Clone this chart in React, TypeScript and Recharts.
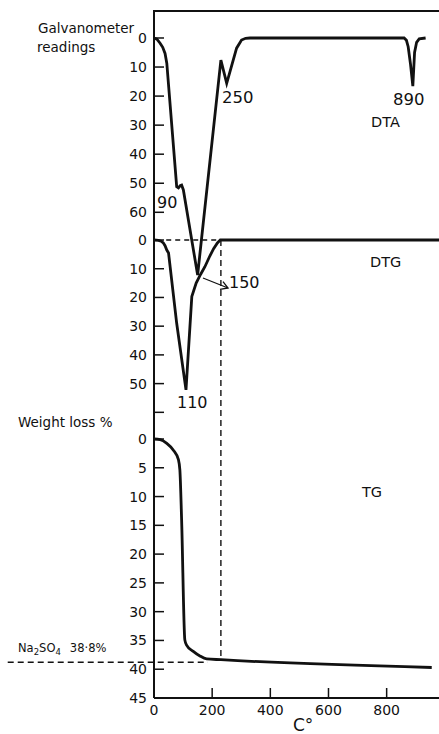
import { LineChart, Line, XAxis, YAxis, ReferenceLine } from 'recharts';

const W = 439;
const H = 734;
const TOP = 11;
const BOTTOM = 36;
const MARGIN = { top: TOP, right: 0, bottom: BOTTOM, left: 0 };
const AXIS_W = 154;
const INK = '#111';
const FONT = '"DejaVu Sans", sans-serif';

// temperature, °C
const T_DOMAIN = [0, 980];
const T_TICKS = [0, 200, 400, 600, 800];

// DTA: galvanometer readings (top block)
const DTA_DOMAIN = [-9.29, 227.19];
const DTA_TICKS = [0, 10, 20, 30, 40, 50, 60];
const DTA_T = [0, 10, 21, 30, 38, 44, 78, 84, 90, 95, 101, 150, 230, 250, 284, 301, 315, 330, 860, 868, 874, 882, 890, 896, 903, 912, 934];
const DTA_V = [0, 0.4, 1.8, 3.2, 5.3, 8.7, 51.2, 51.6, 50.8, 50.6, 52.3, 81.6, 7.6, 15.6, 3.5, 0.7, 0.1, 0, 0, 0.8, 3, 9, 16.6, 5, 1.5, 0.3, 0];

// DTG (middle block)
const DTG_DOMAIN = [-79.74, 159.47];
const DTG_TICKS = [0, 10, 20, 30, 40, 50, 60];
const DTG_LABELLED = [0, 10, 20, 30, 40, 50];
const DTG_T = [0, 15, 25, 32, 38, 44, 50, 78, 110, 130, 145, 160, 175, 190, 205, 218, 228, 980];
const DTG_V = [0, 0.1, 0.4, 1.0, 2.0, 3.5, 4.5, 29, 52.2, 19.7, 15, 12, 9.3, 6, 3, 1, 0, 0];

// TG: weight loss % (bottom block)
const TG_DOMAIN = [-74.36, 45];
const TG_TICKS = [0, 5, 10, 15, 20, 25, 30, 35, 40, 45];
const TG_T = [0, 21, 44, 66, 84, 89, 95, 106, 112, 135, 158, 181, 230, 955];
const TG_V = [0, 0.1, 0.75, 1.9, 3.6, 5.4, 14.1, 34.9, 35.8, 36.9, 37.7, 38.2, 38.35, 39.7];

// Na2SO4 residue and the guide lines
const NA2SO4 = 38.8;
const NA2SO4_FROM = -503;
const NA2SO4_TO = 185;
const DTG_END = 228;
const GUIDE_T = 230;
const GUIDE_TG = 38.35;

const rows = (ts: number[], vs: number[]) => ts.map((t, i) => ({ t, v: vs[i] }));

// map a value from one block's scale onto another's
const rescale = (v: number, from: number[], to: number[]) =>
  to[0] + ((v - from[0]) / (from[1] - from[0])) * (to[1] - to[0]);

const yTick = (labelled: number[]) => (p: any) => {
  const { x, y, payload } = p;
  return (
    <g>
      <line x1={x} x2={x + 10} y1={y} y2={y} stroke={INK} strokeWidth={1.5} />
      {labelled.includes(payload.value) && (
        <text x={x - 7} y={y} dy="0.36em" textAnchor="end" fontSize={14} fontFamily={FONT} fill={INK}>
          {payload.value}
        </text>
      )}
    </g>
  );
};

const xTick = (p: any) => {
  const { x, y, payload } = p;
  return (
    <g>
      {payload.value !== 0 && <line x1={x} x2={x} y1={y} y2={y - 10} stroke={INK} strokeWidth={1.5} />}
      <text x={x} y={y + 17} textAnchor="middle" fontSize={14} fontFamily={FONT} fill={INK}>
        {payload.value}
      </text>
    </g>
  );
};

const layer: React.CSSProperties = { position: 'absolute', left: 0, top: 0 };

const lineProps = {
  dataKey: 'v',
  stroke: INK,
  strokeWidth: 2.8,
  dot: false,
  activeDot: false,
  isAnimationActive: false,
};

export default function App() {
  const dtgZeroOnTg = rescale(0, DTG_DOMAIN, TG_DOMAIN);
  const txt = { fontFamily: FONT, fill: INK };

  return (
    <div style={{ position: 'absolute', left: 0, top: 0, width: W, height: H, background: '#fff' }}>
      {/* DTA */}
      <div style={layer}>
        <LineChart width={W} height={H} margin={MARGIN} data={rows(DTA_T, DTA_V)}>
          <XAxis type="number" dataKey="t" domain={T_DOMAIN} hide allowDataOverflow />
          <YAxis
            type="number"
            domain={DTA_DOMAIN}
            reversed
            allowDataOverflow
            ticks={DTA_TICKS}
            interval={0}
            width={AXIS_W}
            axisLine={false}
            tickLine={false}
            tickSize={0}
            tickMargin={0}
            tick={yTick(DTA_TICKS)}
          />
          <Line type="linear" {...lineProps} />
        </LineChart>
      </div>

      {/* DTG */}
      <div style={layer}>
        <LineChart width={W} height={H} margin={MARGIN} data={rows(DTG_T, DTG_V)}>
          <XAxis type="number" dataKey="t" domain={T_DOMAIN} hide allowDataOverflow />
          <YAxis
            type="number"
            domain={DTG_DOMAIN}
            reversed
            allowDataOverflow
            ticks={DTG_TICKS}
            interval={0}
            width={AXIS_W}
            axisLine={false}
            tickLine={false}
            tickSize={0}
            tickMargin={0}
            tick={yTick(DTG_LABELLED)}
          />
          <ReferenceLine
            segment={[{ x: 42, y: 0 }, { x: DTG_END, y: 0 }]}
            stroke={INK}
            strokeWidth={1.4}
            strokeDasharray="5 4"
          />
          <Line type="linear" {...lineProps} />
        </LineChart>
      </div>

      {/* TG, with the temperature axis */}
      <div style={layer}>
        <LineChart width={W} height={H} margin={{ ...MARGIN, bottom: 0 }} data={rows(TG_T, TG_V)}>
          <XAxis
            type="number"
            dataKey="t"
            domain={T_DOMAIN}
            ticks={T_TICKS}
            interval={0}
            height={BOTTOM}
            allowDataOverflow
            axisLine={{ stroke: INK, strokeWidth: 2 }}
            tickLine={false}
            tickSize={0}
            tickMargin={0}
            tick={xTick}
          />
          <YAxis
            type="number"
            domain={TG_DOMAIN}
            reversed
            allowDataOverflow
            ticks={TG_TICKS}
            interval={0}
            width={AXIS_W}
            axisLine={{ stroke: INK, strokeWidth: 2 }}
            tickLine={false}
            tickSize={0}
            tickMargin={0}
            tick={yTick(TG_TICKS)}
          />
          <ReferenceLine
            segment={[{ x: NA2SO4_FROM, y: NA2SO4 }, { x: NA2SO4_TO, y: NA2SO4 }]}
            ifOverflow="visible"
            stroke={INK}
            strokeWidth={1.4}
            strokeDasharray="6 4"
          />
          <ReferenceLine
            segment={[{ x: GUIDE_T, y: dtgZeroOnTg }, { x: GUIDE_T, y: GUIDE_TG }]}
            stroke={INK}
            strokeWidth={1.4}
            strokeDasharray="6 4"
          />
          <Line type="monotone" {...lineProps} />
        </LineChart>
      </div>

      {/* frame top, captions and peak temperatures */}
      <svg width={W} height={H} style={{ ...layer, pointerEvents: 'none' }}>
        <line x1={AXIS_W - 1} x2={W} y1={TOP} y2={TOP} stroke={INK} strokeWidth={2} />
        <text x={38} y={33} fontSize={13.5} {...txt}>Galvanometer</text>
        <text x={37} y={52} fontSize={13.5} {...txt}>readings</text>
        <text x={157} y={208} fontSize={16} {...txt}>90</text>
        <text x={222} y={103} fontSize={16.5} {...txt}>250</text>
        <text x={393} y={105} fontSize={16.5} {...txt}>890</text>
        <text x={371} y={127} fontSize={14.5} {...txt}>DTA</text>
        <text x={370} y={267} fontSize={14.5} {...txt}>DTG</text>
        <text x={229} y={288} fontSize={16} {...txt}>150</text>
        <line x1={203} y1={278} x2={228} y2={288} stroke={INK} strokeWidth={1.3} />
        <path d="M220 289.3 L228 288 L223 281.7" fill="none" stroke={INK} strokeWidth={1.3} />
        <text x={177} y={408} fontSize={16} {...txt}>110</text>
        <text x={18} y={427} fontSize={13.5} {...txt}>Weight loss %</text>
        <text x={362} y={497} fontSize={14.5} {...txt}>TG</text>
        <text x={18} y={652} fontSize={11.5} {...txt}>
          Na<tspan fontSize={8.5} dy={3}>2</tspan>
          <tspan dy={-3}>SO</tspan>
          <tspan fontSize={8.5} dy={3}>4</tspan>
          <tspan dy={-3} dx={9}>38·8%</tspan>
        </text>
        <text x={293} y={731} fontSize={17} {...txt}>C°</text>
      </svg>
    </div>
  );
}
